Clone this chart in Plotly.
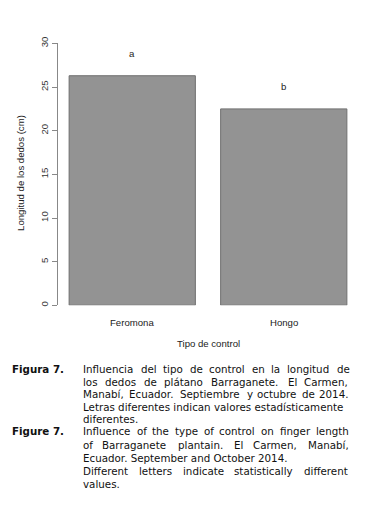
import plotly.graph_objects as go

categories = ["Feromona", "Hongo"]
values = [26.3, 22.5]
letters = ["a", "b"]
x_pos = [0.7, 1.9]
y_ticks = [0, 5, 10, 15, 20, 25, 30]

caption_es = [
    "Influencia del tipo de control en la longitud de",
    "los dedos de plátano Barraganete. El Carmen,",
    "Manabí, Ecuador. Septiembre y octubre de 2014.",
    "Letras diferentes indican valores estadísticamente",
    "diferentes.",
]
caption_en = [
    "Influence of the type of control on finger length",
    "of Barraganete plantain. El Carmen, Manabí,",
    "Ecuador. September and October 2014.",
    "Different letters indicate statistically different",
    "values.",
]
justify_es = [True, True, True, False, False]
justify_en = [True, True, False, True, False]

W, H = 367, 516
def px(x):
    return x / W
def py(y):
    return 1 - y / H

# approximate DejaVu Sans advance widths (units of 1/2048 em)
CW = {' ': 651, 'a': 1255, 'b': 1300, 'c': 1126, 'd': 1300, 'e': 1260, 'f': 721,
      'g': 1300, 'h': 1298, 'i': 569, 'j': 569, 'k': 1186, 'l': 569, 'm': 1995,
      'n': 1298, 'o': 1253, 'p': 1300, 'q': 1300, 'r': 842, 's': 1067, 't': 803,
      'u': 1298, 'v': 1212, 'w': 1675, 'x': 1212, 'y': 1212, 'z': 1075,
      'A': 1401, 'B': 1405, 'C': 1430, 'D': 1577, 'E': 1294, 'F': 1178, 'G': 1587,
      'I': 604, 'L': 1141, 'M': 1767, 'O': 1612, 'S': 1300, 'T': 1251,
      'í': 569, 'á': 1255, '.': 651, ',': 651}
def text_w(s, fs):
    return 1.04 * sum(CW.get(ch, 1303 if ch.isdigit() else 1200) for ch in s) / 2048 * fs

fig = go.Figure()
fig.add_trace(go.Bar(
    x=x_pos, y=values, width=1.0,
    marker=dict(color="#939393", line=dict(color="#707070", width=1)),
    hoverinfo="skip",
))

chart_font = dict(size=9.6, color="#222", family="Liberation Sans")
ann = []
for xp, v, l in zip(x_pos, values, letters):
    ann.append(dict(x=xp, y=v + 2.55, xref="x", yref="y", text=l, showarrow=False,
                    font=chart_font, yanchor="middle"))
for xp, c in zip(x_pos, categories):
    ann.append(dict(x=xp, y=py(320), xref="x", yref="paper", text=c, showarrow=False,
                    font=chart_font, yanchor="middle"))
ann.append(dict(x=px(208.5), y=py(341.5), xref="paper", yref="paper", text="Tipo de control",
                showarrow=False, font=chart_font, yanchor="middle"))
ann.append(dict(x=px(21), y=py(168.5), xref="paper", yref="paper",
                text="Longitud de los dedos (cm)", textangle=-90, showarrow=False,
                font=chart_font, xanchor="center", yanchor="middle"))

fs = 10.3
cap_font = dict(size=fs, color="#111", family="DejaVu Sans")
XL, XR = 81, 348

def add_line(line, y, justify):
    words = line.split(" ")
    if not justify or len(words) < 2:
        ann.append(dict(x=px(XL), y=py(y), xref="paper", yref="paper", text=line,
                        showarrow=False, xanchor="left", yanchor="middle", font=cap_font))
        return
    ww = [text_w(w, fs) for w in words]
    gap = max(3.0, (XR - XL - sum(ww)) / (len(words) - 1))
    x = XL
    for w, wl in zip(words, ww):
        ann.append(dict(x=px(x), y=py(y), xref="paper", yref="paper", text=w,
                        showarrow=False, xanchor="left", yanchor="middle", font=cap_font))
        x += wl + gap

lh = 12.6
y0 = 368
for i, line in enumerate(caption_es):
    add_line(line, y0 + i * lh, justify_es[i])
ann.append(dict(x=px(10), y=py(y0), xref="paper", yref="paper", text="<b>Figura 7.</b>",
                showarrow=False, xanchor="left", yanchor="middle", font=cap_font))
y1 = y0 + 5 * lh
lh_en = 13.4
for i, line in enumerate(caption_en):
    add_line(line, y1 + i * lh_en, justify_en[i])
ann.append(dict(x=px(10), y=py(y1), xref="paper", yref="paper", text="<b>Figure 7.</b>",
                showarrow=False, xanchor="left", yanchor="middle", font=cap_font))

fig.update_layout(
    width=W, height=H,
    margin=dict(l=0, r=0, t=0, b=0),
    paper_bgcolor="white", plot_bgcolor="white",
    showlegend=False,
    annotations=ann,
    xaxis=dict(domain=[px(58), px(358)], range=[0.112, 2.488], showticklabels=False,
               showgrid=False, zeroline=False, showline=False, ticks="", fixedrange=True),
    yaxis=dict(domain=[py(303), py(37)], range=[0, 30], tickvals=y_ticks,
               ticks="outside", ticklen=5, tickcolor="#888", tickwidth=1,
               showline=True, linecolor="#888", linewidth=1,
               showgrid=False, zeroline=False, tickangle=-90, fixedrange=True,
               tickfont=dict(size=9.6, color="#333", family="Liberation Sans")),
)

fig.write_html("out.html", config={"displayModeBar": False},
               post_script="document.body.style.margin='0';document.body.style.padding='0';")
